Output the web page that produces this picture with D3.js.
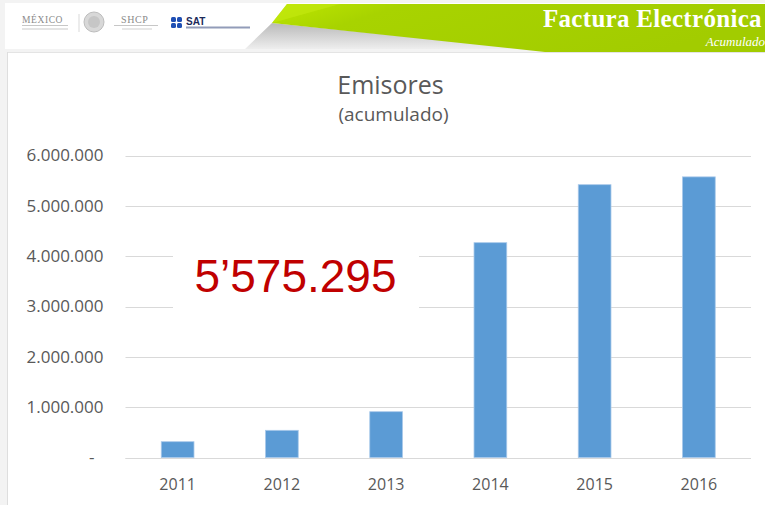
<!DOCTYPE html>
<html>
<head>
<meta charset="utf-8">
<script src="https://cdn.jsdelivr.net/npm/d3@7"></script>
<style>
  html, body { margin: 0; padding: 0; background: #f3f3f3; }
  svg { display: block; }
</style>
</head>
<body>
<svg id="chart" width="765" height="505"></svg>
<script>
// ---- data ----
const years = ["2011", "2012", "2013", "2014", "2015", "2016"];
const emisores = [314000, 540000, 910000, 4268000, 5420000, 5575295];
const yTicks = [0, 1000000, 2000000, 3000000, 4000000, 5000000, 6000000];
const chartTitle = "Emisores";
const chartSubtitle = "(acumulado)";
const highlight = "5’575.295";
const headerTitle = "Factura Electrónica";
const headerSubtitle = "Acumulado";

const svg = d3.select("#chart");
const W = 765, H = 505;

// ---- page / header ----
svg.append("rect").attr("x", 0).attr("y", 0).attr("width", W).attr("height", H).attr("fill", "#f3f3f3");
svg.append("rect").attr("x", 5).attr("y", 3).attr("width", W - 5).attr("height", 46).attr("fill", "#ffffff");

const defs = svg.append("defs");
const gg = defs.append("linearGradient").attr("id", "grayGrad")
  .attr("x1", 0).attr("y1", 0).attr("x2", 0).attr("y2", 1);
gg.append("stop").attr("offset", "0%").attr("stop-color", "#b9b9b9");
gg.append("stop").attr("offset", "100%").attr("stop-color", "#f4f4f4");
const gl = defs.append("linearGradient").attr("id", "greenGrad")
  .attr("x1", 0).attr("y1", 0).attr("x2", 1).attr("y2", 0.3);
gl.append("stop").attr("offset", "0%").attr("stop-color", "#bde600");
gl.append("stop").attr("offset", "25%").attr("stop-color", "#a8d300");
gl.append("stop").attr("offset", "100%").attr("stop-color", "#a2cc00");

svg.append("path")
  .attr("d", "M272,23 L560,52 L560,49 L245,49 Z")
  .attr("fill", "url(#grayGrad)");
svg.append("path")
  .attr("d", `M287,4 L${W},4 L${W},52 L545,52 L272,23 Z`)
  .attr("fill", "url(#greenGrad)");
svg.append("path")
  .attr("d", "M287,4 L340,4 L272,23 Z")
  .attr("fill", "#c4ea10").attr("opacity", 0.6);

svg.append("text").attr("x", 543).attr("y", 27)
  .attr("font-family", "Liberation Serif, DejaVu Serif, serif").attr("font-weight", "bold")
  .attr("font-size", 25).attr("letter-spacing", 0.3).attr("fill", "#ffffff").text(headerTitle);
svg.append("text").attr("x", 765).attr("y", 46).attr("text-anchor", "end")
  .attr("font-family", "Liberation Serif, DejaVu Serif, serif").attr("font-style", "italic")
  .attr("font-size", 13).attr("fill", "#ffffff").text(headerSubtitle);

// logos (approximate)
const logos = svg.append("g");
logos.append("text").attr("x", 22).attr("y", 23)
  .attr("font-family", "Liberation Serif, serif").attr("font-size", 9.5).attr("fill", "#8a8a8a")
  .attr("letter-spacing", 0.6).text("MÉXICO");
logos.append("line").attr("x1", 22).attr("x2", 68).attr("y1", 25.5).attr("y2", 25.5).attr("stroke", "#b9b9b9").attr("stroke-width", 0.8);
logos.append("line").attr("x1", 22).attr("x2", 68).attr("y1", 29).attr("y2", 29).attr("stroke", "#c9c9c9").attr("stroke-width", 1);
logos.append("line").attr("x1", 79).attr("x2", 79).attr("y1", 14).attr("y2", 32).attr("stroke", "#cfcfcf").attr("stroke-width", 0.8);
logos.append("circle").attr("cx", 94).attr("cy", 22).attr("r", 10).attr("fill", "#d8d8d8").attr("stroke", "#bdbdbd");
logos.append("circle").attr("cx", 94).attr("cy", 22).attr("r", 6).attr("fill", "#c6c6c6");
logos.append("text").attr("x", 121).attr("y", 23)
  .attr("font-family", "Liberation Serif, serif").attr("font-size", 10).attr("fill", "#8a8a8a")
  .attr("letter-spacing", 0.6).text("SHCP");
logos.append("line").attr("x1", 114).attr("x2", 158).attr("y1", 25.5).attr("y2", 25.5).attr("stroke", "#b9b9b9").attr("stroke-width", 0.8);
logos.append("line").attr("x1", 122).attr("x2", 152).attr("y1", 29).attr("y2", 29).attr("stroke", "#cfcfcf").attr("stroke-width", 1);
[[171, 17], [177, 17], [171, 23], [177, 23]].forEach(p => {
  logos.append("rect").attr("x", p[0]).attr("y", p[1]).attr("width", 5).attr("height", 5).attr("rx", 1.5).attr("fill", "#1f4fb4");
});
logos.append("text").attr("x", 186).attr("y", 25)
  .attr("font-family", "Liberation Sans, sans-serif").attr("font-weight", "bold").attr("font-size", 10)
  .attr("fill", "#1c2a5a").text("SAT");
logos.append("rect").attr("x", 186).attr("y", 26.5).attr("width", 64).attr("height", 2).attr("fill", "#4a5a8a").attr("opacity", 0.6);

// white content panel
svg.append("rect").attr("x", 8).attr("y", 52).attr("width", W - 8).attr("height", H - 52).attr("fill", "#ffffff");
svg.append("line").attr("x1", 8).attr("x2", W).attr("y1", 52.5).attr("y2", 52.5).attr("stroke", "#e4e4e4");
svg.append("line").attr("x1", 7.5).attr("x2", 7.5).attr("y1", 52).attr("y2", H).attr("stroke", "#dedede");

// ---- chart ----
const plot = { left: 125.5, right: 751, top: 155.5, bottom: 457.5 };
const x = d3.scaleBand().domain(years).range([plot.left, plot.right])
  .paddingInner(0.686).paddingOuter(0.343);
const y = d3.scaleLinear().domain([0, 6000000]).range([plot.bottom, plot.top]);

const fmt = v => v === 0 ? "-" : d3.format(",")(v).replace(/,/g, ".");

svg.append("g").selectAll("line").data(yTicks).join("line")
  .attr("x1", plot.left).attr("x2", plot.right)
  .attr("y1", d => Math.round(y(d)) + 0.5).attr("y2", d => Math.round(y(d)) + 0.5)
  .attr("stroke", "#d9d9d9").attr("stroke-width", 1.2);

const yAxis = svg.append("g").attr("transform", `translate(${plot.left},0)`)
  .call(d3.axisLeft(y).tickValues(yTicks).tickFormat(fmt).tickSize(0).tickPadding(22));
yAxis.select(".domain").remove();
yAxis.selectAll("text")
  .attr("font-family", "Open Sans, sans-serif").attr("font-size", 17).attr("fill", "#595959")
  .attr("dx", d => d === 0 ? -9 : 0);

const xAxis = svg.append("g").attr("transform", `translate(0,${plot.bottom})`)
  .call(d3.axisBottom(x).tickSize(0).tickPadding(21));
xAxis.select(".domain").remove();
xAxis.selectAll("text")
  .attr("font-family", "Open Sans, sans-serif").attr("font-size", 16).attr("fill", "#595959");

svg.append("g").selectAll("rect").data(years).join("rect")
  .attr("x", d => x(d))
  .attr("width", x.bandwidth())
  .attr("y", (d, i) => y(emisores[i]))
  .attr("height", (d, i) => y(0) - y(emisores[i]))
  .attr("fill", "#5b9bd5")
  .attr("stroke", "#a9c9ea").attr("stroke-width", 0.8);

svg.append("line").attr("x1", plot.left).attr("x2", plot.right)
  .attr("y1", Math.round(y(0)) + 0.5).attr("y2", Math.round(y(0)) + 0.5)
  .attr("stroke", "#d9d9d9").attr("stroke-width", 1.2);

svg.append("text").attr("x", 390.5).attr("y", 93.5).attr("text-anchor", "middle")
  .attr("font-family", "Open Sans, sans-serif").attr("font-size", 25).attr("fill", "#595959")
  .text(chartTitle);
svg.append("text").attr("x", 393.5).attr("y", 121).attr("text-anchor", "middle")
  .attr("font-family", "Open Sans, sans-serif").attr("font-size", 19).attr("fill", "#595959")
  .text(chartSubtitle);

svg.append("rect").attr("x", 173).attr("y", 228).attr("width", 246).attr("height", 100).attr("fill", "#ffffff");
svg.append("text").attr("x", 295.5).attr("y", 291.5).attr("text-anchor", "middle")
  .attr("font-family", "Liberation Sans, Arial, sans-serif").attr("font-size", 46).attr("fill", "#c00000")
  .text(highlight);
</script>
</body>
</html>
